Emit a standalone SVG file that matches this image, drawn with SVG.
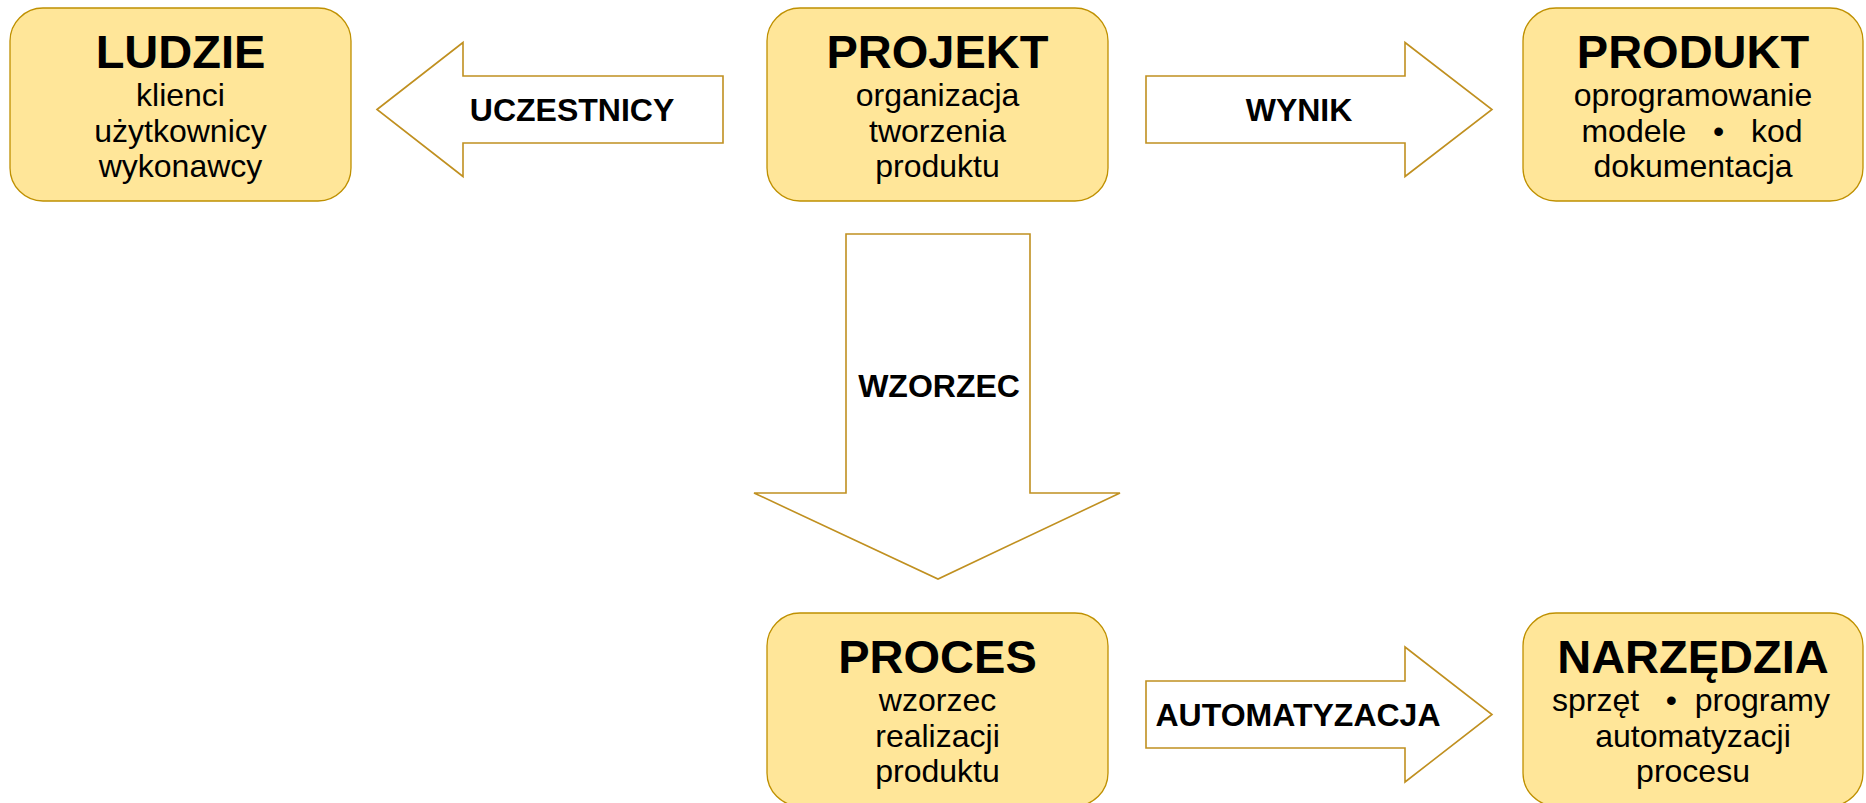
<svg xmlns="http://www.w3.org/2000/svg" width="1866" height="803" viewBox="0 0 1866 803">
  <style>
    .box { fill: #FFE699; stroke: #BF9000; stroke-width: 1.3; }
    .arrow { fill: #FFFFFF; stroke: #C09020; stroke-width: 1.6; stroke-linejoin: miter; }
    .title { font-family: "Liberation Sans", Arial, sans-serif; font-weight: bold; font-size: 47px; fill: #000; text-anchor: middle; }
    .sub { font-family: "Liberation Sans", Arial, sans-serif; font-size: 32px; fill: #000; text-anchor: middle; white-space: pre; }
    .lbl { font-family: "Liberation Sans", Arial, sans-serif; font-weight: bold; font-size: 32px; fill: #000; text-anchor: middle; }
  </style>
  <rect width="1866" height="803" fill="#FFFFFF"/>

  <!-- block arrows with their labels -->
  <g id="connectors">
    <g id="arrow-uczestnicy">
      <polygon class="arrow" points="377,109.5 463,42.5 463,76 723,76 723,143 463,143 463,176.5"/>
      <text class="lbl" x="572" y="121">UCZESTNICY</text>
    </g>
    <g id="arrow-wynik">
      <polygon class="arrow" points="1146,76 1405,76 1405,42.5 1492,109.5 1405,176.5 1405,143 1146,143"/>
      <text class="lbl" x="1299" y="121">WYNIK</text>
    </g>
    <g id="arrow-wzorzec">
      <polygon class="arrow" points="846,234 1030,234 1030,493 1120,493 938,579 754,493 846,493"/>
      <text class="lbl" x="939" y="397">WZORZEC</text>
    </g>
    <g id="arrow-automatyzacja">
      <polygon class="arrow" points="1146,681 1405,681 1405,647 1492,714.5 1405,782 1405,748 1146,748"/>
      <text class="lbl" x="1298" y="726">AUTOMATYZACJA</text>
    </g>
  </g>

  <g id="ludzie">
    <rect class="box" x="10" y="8" width="341" height="193" rx="33" ry="33"/>
    <text class="title" x="180.5" y="68">LUDZIE</text>
    <text class="sub" x="180.5" y="106">klienci</text>
    <text class="sub" x="180.5" y="141.5">użytkownicy</text>
    <text class="sub" x="180.5" y="177">wykonawcy</text>
  </g>

  <g id="projekt">
    <rect class="box" x="767" y="8" width="341" height="193" rx="33" ry="33"/>
    <text class="title" x="937.5" y="68">PROJEKT</text>
    <text class="sub" x="937.5" y="106">organizacja</text>
    <text class="sub" x="937.5" y="141.5">tworzenia</text>
    <text class="sub" x="937.5" y="177">produktu</text>
  </g>

  <g id="produkt">
    <rect class="box" x="1523" y="8" width="340" height="193" rx="33" ry="33"/>
    <text class="title" x="1693" y="68">PRODUKT</text>
    <text class="sub" x="1693" y="106">oprogramowanie</text>
    <text class="sub" x="1692" y="141.5" xml:space="preserve">modele   •   kod</text>
    <text class="sub" x="1693" y="177">dokumentacja</text>
  </g>

  <g id="proces">
    <rect class="box" x="767" y="613" width="341" height="193" rx="33" ry="33"/>
    <text class="title" x="937.5" y="673">PROCES</text>
    <text class="sub" x="937.5" y="711">wzorzec</text>
    <text class="sub" x="937.5" y="746.5">realizacji</text>
    <text class="sub" x="937.5" y="782">produktu</text>
  </g>

  <g id="narzedzia">
    <rect class="box" x="1523" y="613" width="340" height="193" rx="33" ry="33"/>
    <text class="title" x="1693" y="673">NARZĘDZIA</text>
    <text class="sub" x="1691" y="711" xml:space="preserve">sprzęt   •  programy</text>
    <text class="sub" x="1693" y="746.5">automatyzacji</text>
    <text class="sub" x="1693" y="782">procesu</text>
  </g>
</svg>
